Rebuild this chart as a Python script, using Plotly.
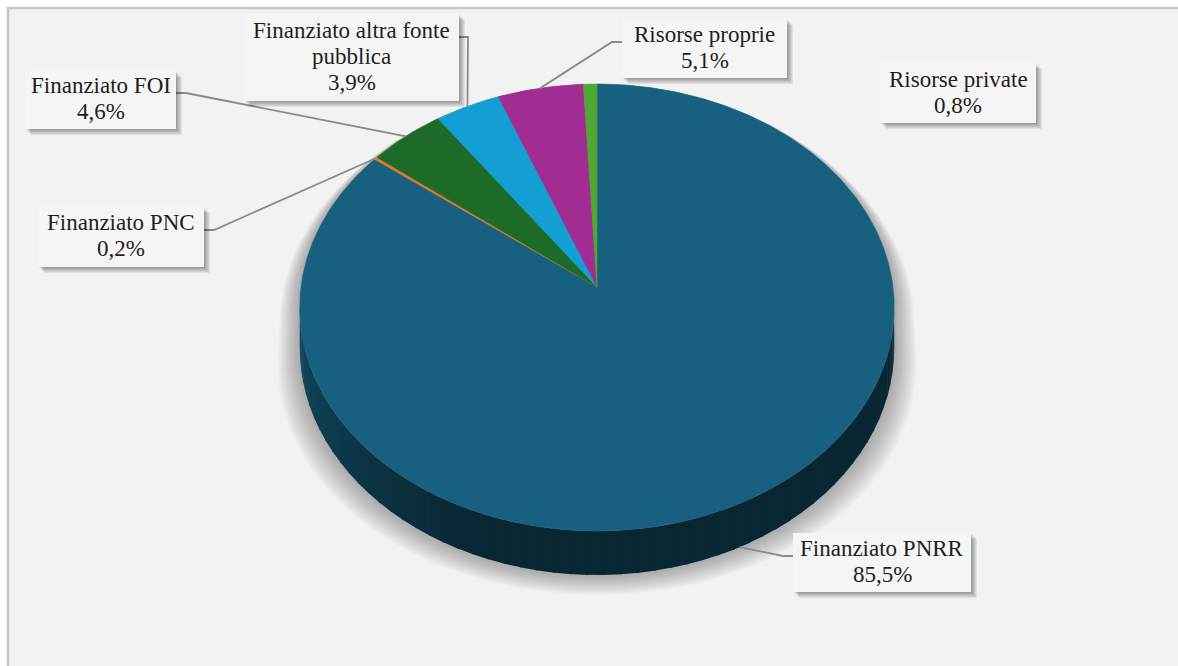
import numpy as np
import plotly.graph_objects as go

# ---- data -----------------------------------------------------------------
categories = [
    "Finanziato PNRR",
    "Finanziato PNC",
    "Finanziato FOI",
    "Finanziato altra fonte pubblica",
    "Risorse proprie",
    "Risorse private",
]
shares = [85.5, 0.2, 4.6, 3.9, 5.1, 0.8]
slice_colors = ["#17607f", "#e07a2a", "#1d6b28", "#139fd3", "#a12d92", "#4fa833"]

# how long category names are wrapped inside their label boxes
wrapped_names = {"Finanziato altra fonte pubblica": ["Finanziato altra fonte", "pubblica"]}

# ---- label box placement (pixels) ------------------------------------------
# box = (x0, y0, x1, y1), first_baseline, leader = points from box edge toward the slice
label_layout = {
    "Finanziato PNRR": dict(box=(793, 533, 971, 592), base=556, leader=[(793, 556), (783, 556)]),
    "Finanziato PNC": dict(box=(38, 207, 204, 267), base=230, leader=[(204, 230), (214, 230)]),
    "Finanziato FOI": dict(box=(25, 71, 176, 129), base=93, leader=[(176, 93), (186, 93)]),
    "Finanziato altra fonte pubblica": dict(box=(244, 14, 459, 101), base=38, leader=[(459, 37), (468, 37)]),
    "Risorse proprie": dict(box=(622, 19, 787, 78), base=42, leader=[(622, 42), (612, 42)]),
    "Risorse private": dict(box=(880, 63, 1036, 123), base=87, leader=None),
}

W, H = 1178, 666
CX, CY = 597, 287          # pie centre on screen
RX, RY, K = 296, 221.6, 0.0917   # disc radii and perspective strength
DEPTH = 40                 # thickness of the pie
FONT = "'Liberation Serif', 'Times New Roman', Times, serif"
FSIZE = 23
LINE_GAP = 26


def project(phi_deg, drop=0.0):
    """Screen position of the rim at angle phi (clockwise from 12 o'clock)."""
    phi = np.radians(phi_deg)
    u, v = np.sin(phi), -np.cos(phi)
    w = 1 - K * v
    return CX + RX * u / w, CY + RY * v / w + drop / w


def mix(c1, c2, t):
    return tuple(int(round(a + (b - a) * t)) for a, b in zip(c1, c2))


def hex_rgb(h):
    h = h.lstrip("#")
    return tuple(int(h[i:i + 2], 16) for i in (0, 2, 4))


total = sum(shares)
bounds = np.concatenate([[0], np.cumsum(shares) / total * 360])
vis_lo = np.degrees(np.arccos(-K))        # right tangent of the silhouette
vis_hi = 360 - vis_lo                     # left tangent

fig = go.Figure()

# ---- soft shadow below the pie ---------------------------------------------
back = np.linspace(vis_hi, 360 + vis_lo, 160)
front = np.linspace(vis_lo, vis_hi, 160)
bx, by = project(back)
fx, fy = project(front, DEPTH)
sil_x = np.concatenate([bx, fx])
sil_y = np.concatenate([by, fy])
top_y = CY - RY / (1 + K)
bot_y = CY + (RY + DEPTH) / (1 - K)
n_layers = 14
for i in range(1, n_layers + 1):
    a = 0.10 * i / n_layers
    c = 0.04 * i / n_layers
    t = np.clip((sil_y - top_y) / (bot_y - top_y), 0, 1) ** 0.5
    xs = CX + (sil_x - CX) * (1 + a * t)
    ys = top_y + (sil_y - top_y) * (1 + c)
    fig.add_trace(go.Scatter(x=xs, y=ys, fill="toself", mode="none",
                             fillcolor="rgba(60,60,60,0.03)",
                             hoverinfo="skip", showlegend=False))

# ---- side wall, shaded from left (lit) to front/right (dark) ---------------
for cat, col, a0, a1 in zip(categories, slice_colors, bounds[:-1], bounds[1:]):
    lo, hi = max(a0, vis_lo), min(a1, vis_hi)
    if hi <= lo:
        continue
    n = max(1, int(np.ceil((hi - lo) / 3)))
    edges = np.linspace(lo, hi, n + 1)
    base = hex_rgb(col)
    lit = tuple(x * 0.76 for x in base)
    dark = tuple(x * 0.40 for x in base)
    for e0, e1 in zip(edges[:-1], edges[1:]):
        ph = np.linspace(e0, e1 + 0.4, 4)
        tx, ty = project(ph)
        dx, dy = project(ph[::-1], DEPTH)
        tt = np.clip((vis_hi - 0.5 * (e0 + e1)) / 62, 0, 1)
        r, g, b = mix(lit, dark, tt)
        fig.add_trace(go.Scatter(x=np.concatenate([tx, dx]), y=np.concatenate([ty, dy]),
                                 fill="toself", mode="lines", line=dict(width=0),
                                 fillcolor=f"rgb({r},{g},{b})",
                                 hoverinfo="skip", showlegend=False))

# ---- top faces -------------------------------------------------------------
for cat, col, a0, a1 in zip(categories, slice_colors, bounds[:-1], bounds[1:]):
    ph = np.linspace(a0, a1, max(3, int((a1 - a0) * 2)))
    rx, ry = project(ph)
    fig.add_trace(go.Scatter(x=np.concatenate([[CX], rx, [CX]]),
                             y=np.concatenate([[CY], ry, [CY]]),
                             fill="toself", mode="lines", line=dict(width=0.6, color=col),
                             fillcolor=col, name=cat, hoverinfo="name", showlegend=False))

# ---- leader lines ----------------------------------------------------------
for cat, a0, a1 in zip(categories, bounds[:-1], bounds[1:]):
    spec = label_layout[cat]
    if not spec["leader"]:
        continue
    mid = 0.5 * (a0 + a1)
    drop = DEPTH if vis_lo < mid < vis_hi else 0
    ax, ay = project(mid, drop)
    pts = spec["leader"] + [(float(ax), float(ay))]
    fig.add_trace(go.Scatter(x=[p[0] for p in pts], y=[p[1] for p in pts], mode="lines",
                             line=dict(color="#8a8a8a", width=1.8),
                             hoverinfo="skip", showlegend=False))

# ---- label boxes and texts -------------------------------------------------
shapes = [dict(type="rect", xref="x", yref="y", x0=8, y0=8, x1=1220, y1=720,
               line=dict(color="#c4c4c4", width=2.5), fillcolor="#f2f2f2", layer="below")]
annotations = []
for cat, val in zip(categories, shares):
    spec = label_layout[cat]
    x0, y0, x1, y1 = spec["box"]
    for d in range(1, 7):
        shapes.append(dict(type="rect", xref="x", yref="y", x0=x0 + d, y0=y0 + d,
                           x1=x1 + d, y1=y1 + d, line=dict(width=0),
                           fillcolor="rgba(0,0,0,0.065)", layer="above"))
    shapes.append(dict(type="rect", xref="x", yref="y", x0=x0, y0=y0, x1=x1, y1=y1,
                       line=dict(width=0), fillcolor="#f5f5f5", layer="above"))
    lines = wrapped_names.get(cat, [cat]) + [f"{val:.1f}".replace(".", ",") + "%"]
    for j, txt in enumerate(lines):
        annotations.append(dict(x=0.5 * (x0 + x1), y=spec["base"] + j * LINE_GAP - 8,
                                xref="x", yref="y", text=txt, showarrow=False,
                                xanchor="center", yanchor="middle",
                                font=dict(family=FONT, size=FSIZE, color="#1e1e1e")))

fig.update_layout(
    width=W, height=H,
    margin=dict(l=0, r=0, t=0, b=0),
    paper_bgcolor="white", plot_bgcolor="rgba(0,0,0,0)",
    xaxis=dict(range=[0, W], visible=False, fixedrange=True),
    yaxis=dict(range=[H, 0], visible=False, fixedrange=True),
    shapes=shapes, annotations=annotations, showlegend=False,
)

fig.write_html("out.html")
